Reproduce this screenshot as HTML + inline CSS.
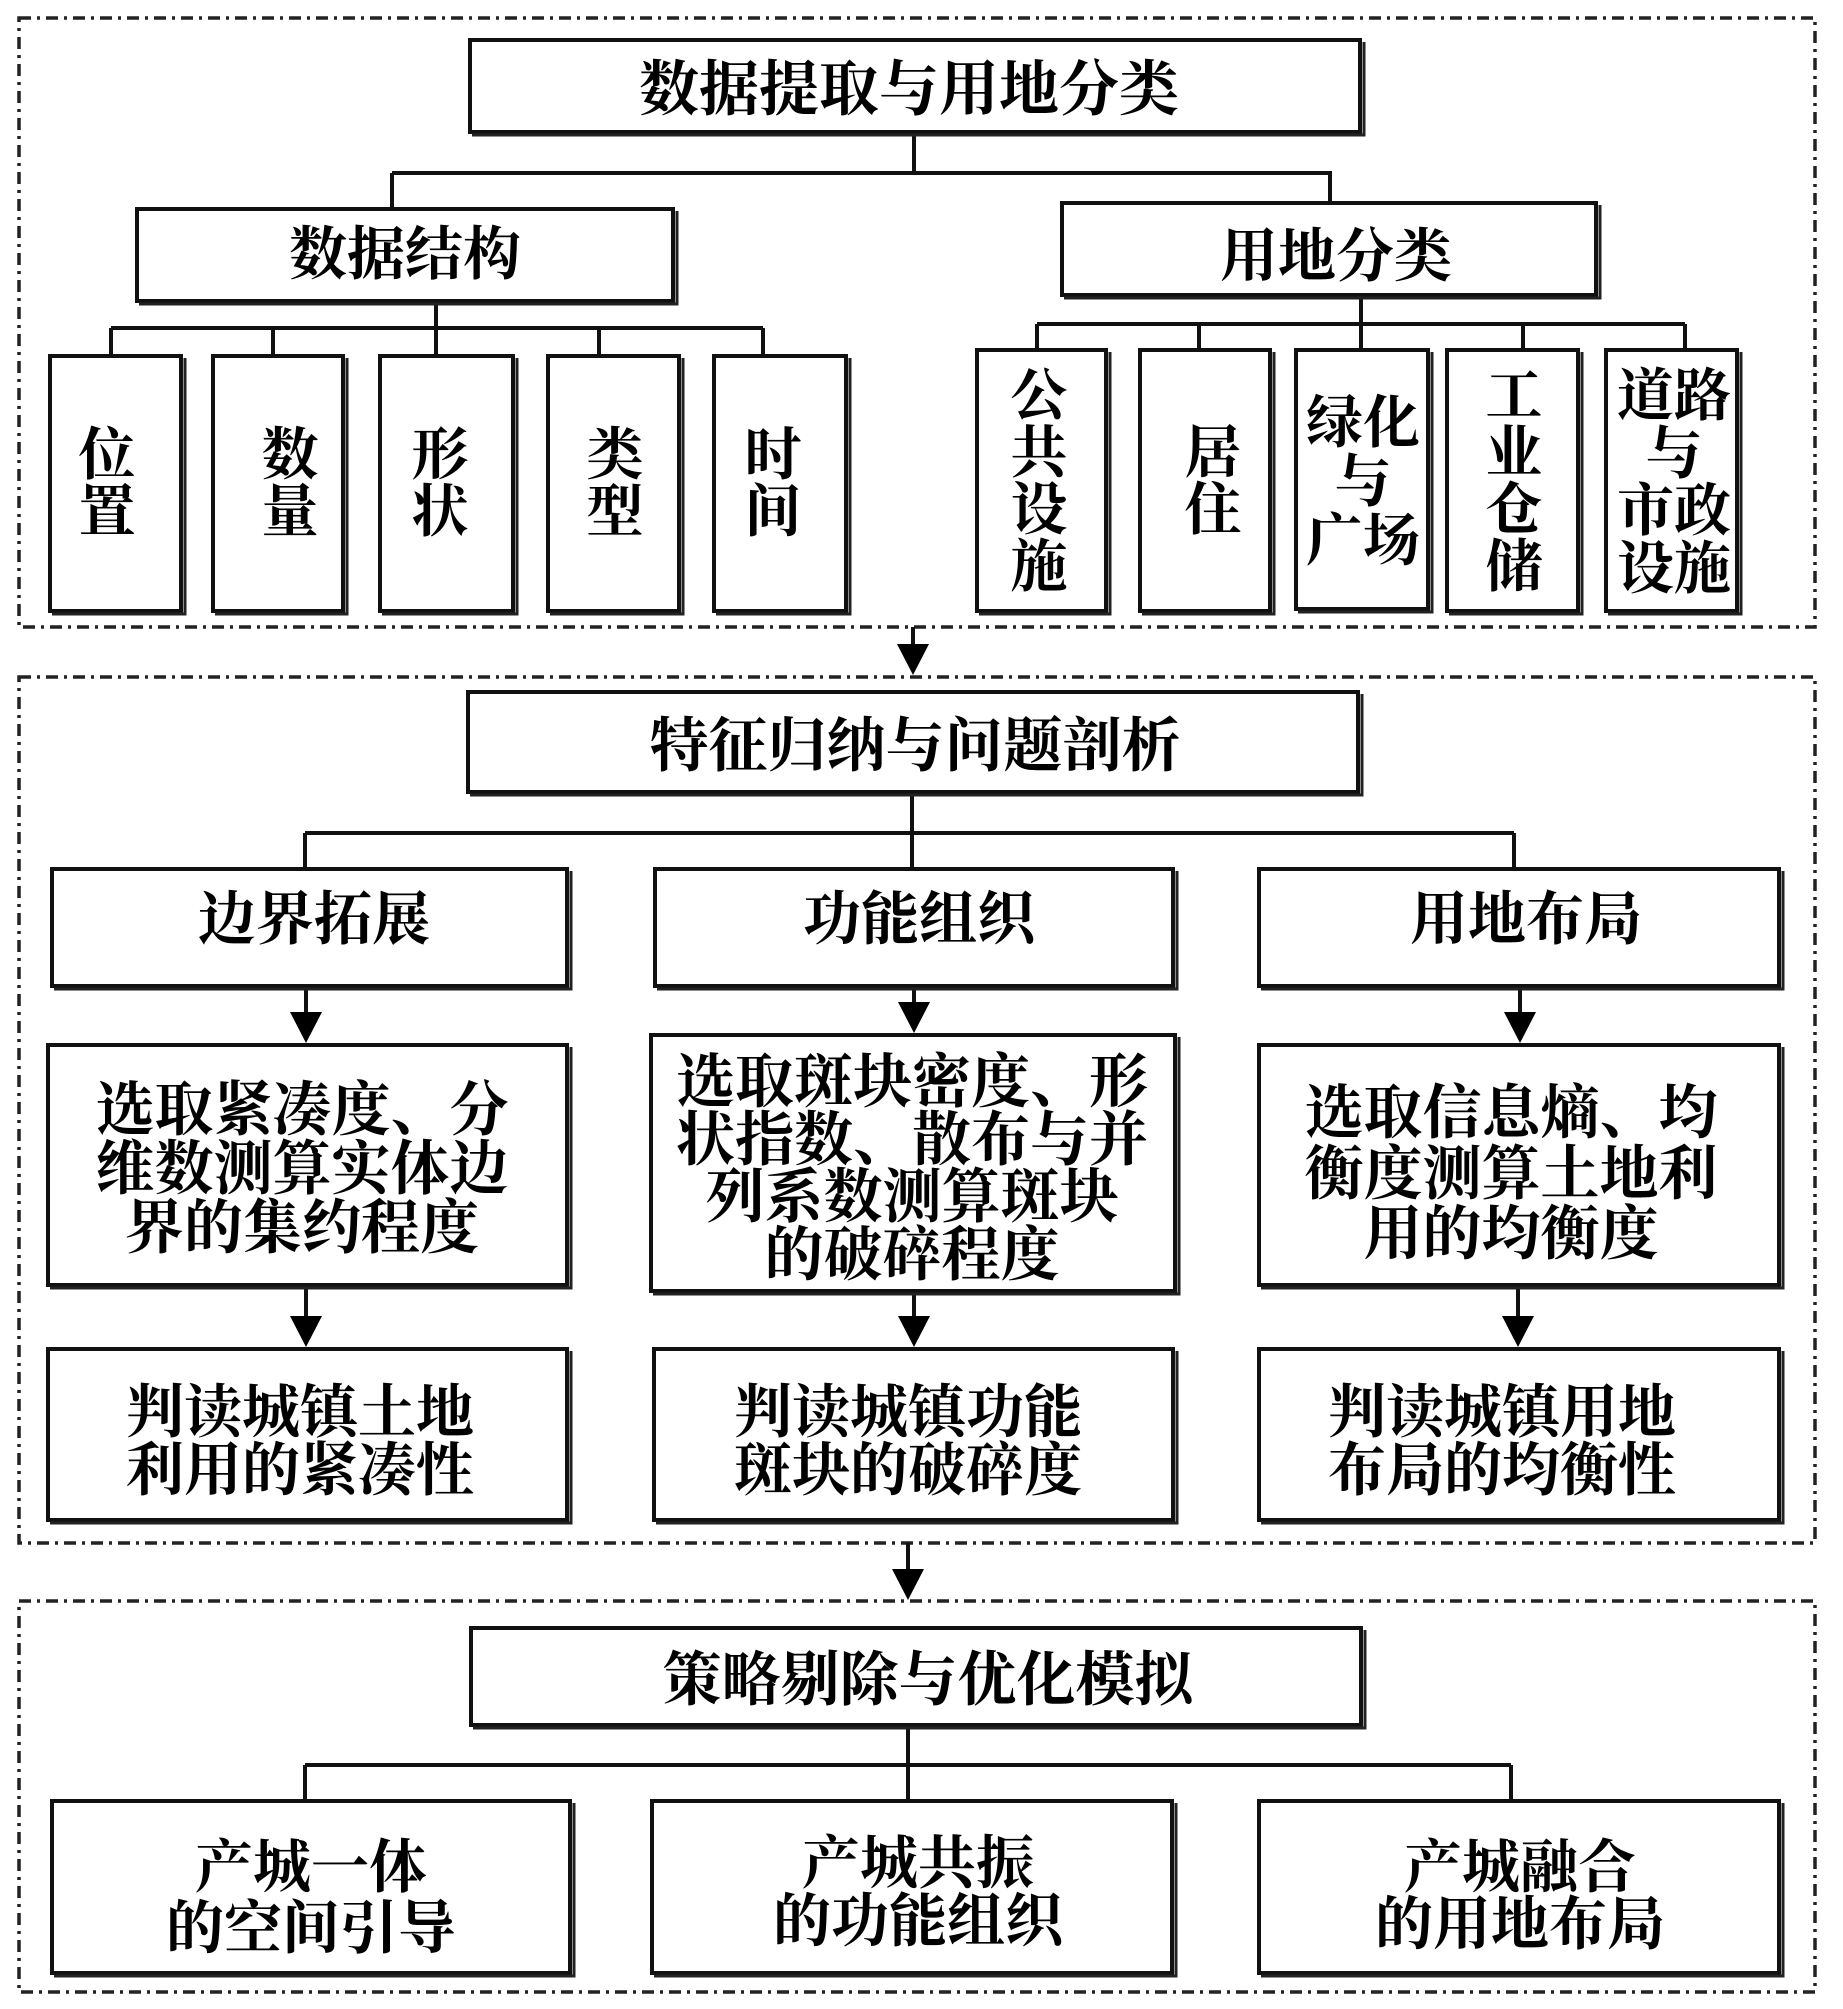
<!DOCTYPE html>
<html><head><meta charset="utf-8"><style>
html,body{margin:0;padding:0;background:#fff;}
#c{position:relative;width:1843px;height:2009px;overflow:hidden;background:#fff;}
svg{position:absolute;left:0;top:0;}
.t{position:absolute;font-family:"Liberation Serif","Noto Serif CJK SC",serif;font-weight:700;color:#000;text-align:center;white-space:nowrap;font-size:58px;line-height:58px;}
</style></head><body><div id="c">
<svg width="1843" height="2009" viewBox="0 0 1843 2009">
<g fill="none" stroke="#222" stroke-width="3.5" stroke-dasharray="12 6 3 6">
<rect x="19" y="18" width="1796" height="609"/>
<rect x="19" y="677" width="1796" height="866"/>
<rect x="19" y="1601" width="1796" height="391"/>
</g>
<g fill="none" stroke="#111" stroke-width="4">
<path d="M914 134V173M392 173H1332M392 173V207M1330 173V201"/>
<path d="M436 303V328M111 328H763M111 328V354M273 328V354M436 328V354M599 328V354M763 328V354"/>
<path d="M1361 297V324M1037 324H1685M1037 324V348M1199 324V348M1361 324V348M1523 324V348M1685 324V348"/>
<path d="M912 794V833M305 833H1514M305 833V867M912 833V867M1514 833V867"/>
<path d="M306 988V1020M914 988V1010M1520 988V1020"/>
<path d="M306 1287V1322M914 1293V1322M1518 1287V1322"/>
<path d="M913 627V650M908 1543V1575"/>
<path d="M908 1727V1765M305 1765H1511M305 1765V1799M908 1765V1799M1511 1765V1799"/>
</g>
<g fill="#000">
<polygon points="290,1012 322,1012 306,1043"/>
<polygon points="898,1002 930,1002 914,1033"/>
<polygon points="1504,1012 1536,1012 1520,1043"/>
<polygon points="290,1316 322,1316 306,1347"/>
<polygon points="898,1316 930,1316 914,1347"/>
<polygon points="1502,1316 1534,1316 1518,1347"/>
<polygon points="897,644 929,644 913,675"/>
<polygon points="892,1569 924,1569 908,1600"/>
<rect x="1386" y="380" width="3" height="3"/>
<rect x="1400" y="380" width="4" height="3"/>
</g>
<g fill="#fff" stroke="#111" stroke-width="4">
<rect x="470" y="40" width="890" height="92"/>
<rect x="137" y="209" width="536" height="92"/>
<rect x="1062" y="203" width="534" height="92"/>
<rect x="50" y="356" width="131" height="255"/>
<rect x="213" y="356" width="130" height="255"/>
<rect x="380" y="356" width="133" height="255"/>
<rect x="548" y="356" width="131" height="255"/>
<rect x="714" y="356" width="132" height="255"/>
<rect x="977" y="350" width="129" height="261"/>
<rect x="1140" y="350" width="130" height="261"/>
<rect x="1296" y="350" width="132" height="259"/>
<rect x="1447" y="350" width="131" height="261"/>
<rect x="1606" y="350" width="131" height="261"/>
<rect x="468" y="692" width="890" height="100"/>
<rect x="52" y="869" width="515" height="117"/>
<rect x="655" y="869" width="518" height="117"/>
<rect x="1259" y="869" width="520" height="117"/>
<rect x="48" y="1045" width="519" height="240"/>
<rect x="651" y="1035" width="524" height="256"/>
<rect x="1259" y="1045" width="520" height="240"/>
<rect x="48" y="1349" width="519" height="171"/>
<rect x="654" y="1349" width="519" height="171"/>
<rect x="1259" y="1349" width="520" height="171"/>
<rect x="471" y="1628" width="890" height="97"/>
<rect x="52" y="1801" width="518" height="172"/>
<rect x="652" y="1801" width="520" height="172"/>
<rect x="1259" y="1801" width="520" height="172"/>
</g>
<g fill="none" stroke="#222" stroke-width="3">
<path d="M472 135H1364V42"/>
<path d="M139 304H677V211"/>
<path d="M1064 298H1600V205"/>
<path d="M52 614H185V358M215 614H347V358M382 614H517V358M550 614H683V358M716 614H850V358"/>
<path d="M979 614H1110V352M1142 614H1274V352M1298 612H1432V352M1449 614H1582V352M1608 614H1741V352"/>
<path d="M470 795H1362V694"/>
<path d="M54 989H571V871M657 989H1177V871M1261 989H1783V871"/>
<path d="M50 1288H571V1047M653 1294H1179V1037M1261 1288H1783V1047"/>
<path d="M50 1523H571V1351M656 1523H1177V1351M1261 1523H1783V1351"/>
<path d="M473 1728H1365V1630"/>
<path d="M54 1976H574V1803M654 1976H1176V1803M1261 1976H1783V1803"/>
</g>
</svg>

<div class="t" style="left:609px;top:60px;width:600px;font-size:60px;line-height:60px;">数据提取与用地分类</div>
<div class="t" style="left:255px;top:226px;width:300px;">数据结构</div>
<div class="t" style="left:1186px;top:228px;width:300px;">用地分类</div>

<div class="t" style="left:57px;top:427px;width:100px;font-size:57px;line-height:57px;">位<br>置</div>
<div class="t" style="left:240px;top:427px;width:100px;font-size:57px;line-height:57px;">数<br>量</div>
<div class="t" style="left:390px;top:427px;width:100px;font-size:57px;line-height:57px;">形<br>状</div>
<div class="t" style="left:565px;top:427px;width:100px;font-size:57px;line-height:57px;">类<br>型</div>
<div class="t" style="left:723px;top:427px;width:100px;font-size:57px;line-height:57px;">时<br>间</div>

<div class="t" style="left:989px;top:368px;width:100px;font-size:57px;line-height:57px;">公<br>共<br>设<br>施</div>
<div class="t" style="left:1163px;top:425px;width:100px;font-size:57px;line-height:57px;">居<br>住</div>
<div class="t" style="left:1298px;top:394px;width:130px;font-size:57px;line-height:59px;">绿化<br>与<br>广场</div>
<div class="t" style="left:1464px;top:368px;width:100px;font-size:57px;line-height:57px;">工<br>业<br>仓<br>储</div>
<div class="t" style="left:1609px;top:368px;width:130px;font-size:57px;line-height:57.5px;">道路<br>与<br>市政<br>设施</div>

<div class="t" style="left:615px;top:717px;width:600px;font-size:59px;line-height:59px;">特征归纳与问题剖析</div>
<div class="t" style="left:164px;top:891px;width:300px;">边界拓展</div>
<div class="t" style="left:769px;top:891px;width:300px;">功能组织</div>
<div class="t" style="left:1376px;top:891px;width:300px;">用地布局</div>

<div class="t" style="left:52px;top:1081px;width:500px;font-size:59px;line-height:59px;">选取紧凑度、分<br>维数测算实体边<br>界的集约程度</div>
<div class="t" style="left:662px;top:1054px;width:500px;font-size:59px;line-height:57.7px;">选取斑块密度、形<br>状指数、散布与并<br>列系数测算斑块<br>的破碎程度</div>
<div class="t" style="left:1261px;top:1083px;width:500px;font-size:59px;line-height:60.5px;">选取信息熵、均<br>衡度测算土地利<br>用的均衡度</div>

<div class="t" style="left:100px;top:1384px;width:400px;">判读城镇土地<br>利用的紧凑性</div>
<div class="t" style="left:708px;top:1384px;width:400px;">判读城镇功能<br>斑块的破碎度</div>
<div class="t" style="left:1302px;top:1384px;width:400px;">判读城镇用地<br>布局的均衡性</div>

<div class="t" style="left:628px;top:1651px;width:600px;font-size:59px;line-height:59px;">策略剔除与优化模拟</div>
<div class="t" style="left:111px;top:1837px;width:400px;line-height:61px;">产城一体<br>的空间引导</div>
<div class="t" style="left:718px;top:1835px;width:400px;">产城共振<br>的功能组织</div>
<div class="t" style="left:1320px;top:1839px;width:400px;line-height:57px;">产城融合<br>的用地布局</div>
</div></body></html>
